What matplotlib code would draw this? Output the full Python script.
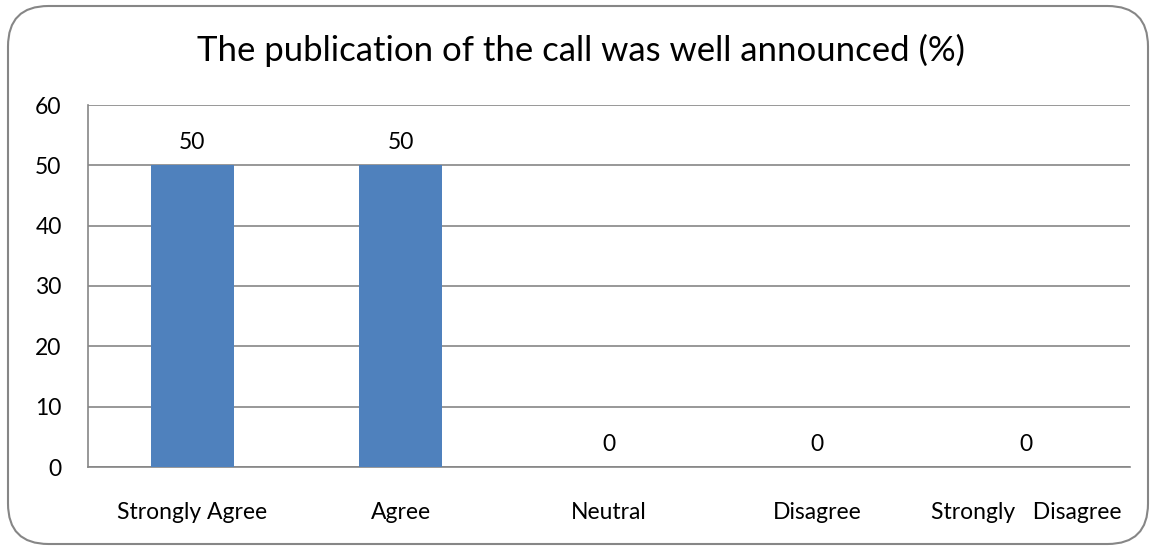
import matplotlib
matplotlib.use("Agg")
import matplotlib.pyplot as plt
from matplotlib.patches import FancyBboxPatch
import numpy as np

# 数据
title = "The publication of the call was well announced (%)"
categories = ["Strongly Agree", "Agree", "Neutral", "Disagree", "Strongly   Disagree"]
values = [50, 50, 0, 0, 0]
yticks = [0, 10, 20, 30, 40, 50, 60]

bar_color = "#4F81BD"
grid_color = "#868686"

plt.rcParams["font.family"] = ["Lato", "DejaVu Sans"]

fig = plt.figure(figsize=(11.56, 5.5), dpi=100)
ax = fig.add_axes([88 / 1156, 1 - 467 / 550, 1042 / 1156, 362 / 550])

x = np.arange(len(categories))
bars = ax.bar(x, values, width=0.4, color=bar_color, zorder=3)

# 数值标签
for xi, v in zip(x, values):
	ax.annotate(str(v), (xi, v), xytext=(0, 16.5), textcoords="offset points",
				ha="center", va="center", fontsize=16.5)

ax.set_xlim(-0.5, len(categories) - 0.5)
ax.set_ylim(0, 60)
ax.set_yticks(yticks)
ax.set_xticks(x)
ax.set_xticklabels(categories, fontsize=16.5)
ax.tick_params(axis="x", length=0, pad=25)
ax.tick_params(axis="y", length=0, pad=19, labelsize=16.5)
ax.grid(axis="y", color=grid_color, linewidth=1.2, zorder=0)
for s in ["top", "right"]:
	ax.spines[s].set_visible(False)
for s in ["left", "bottom"]:
	ax.spines[s].set_color(grid_color)
	ax.spines[s].set_linewidth(1.2)

fig.text(581 / 1156, 1 - 50 / 550, title, ha="center", va="center", fontsize=25)

# 圆角边框
border = FancyBboxPatch((8 / 1156, 6 / 550), 1140 / 1156, 538 / 550,
						boxstyle="round,pad=0,rounding_size=0.035",
						transform=fig.transFigure, facecolor="none",
						edgecolor=grid_color, linewidth=1.5, mutation_aspect=1156 / 550)
fig.patches.append(border)

fig.savefig("out.png", dpi=100)
